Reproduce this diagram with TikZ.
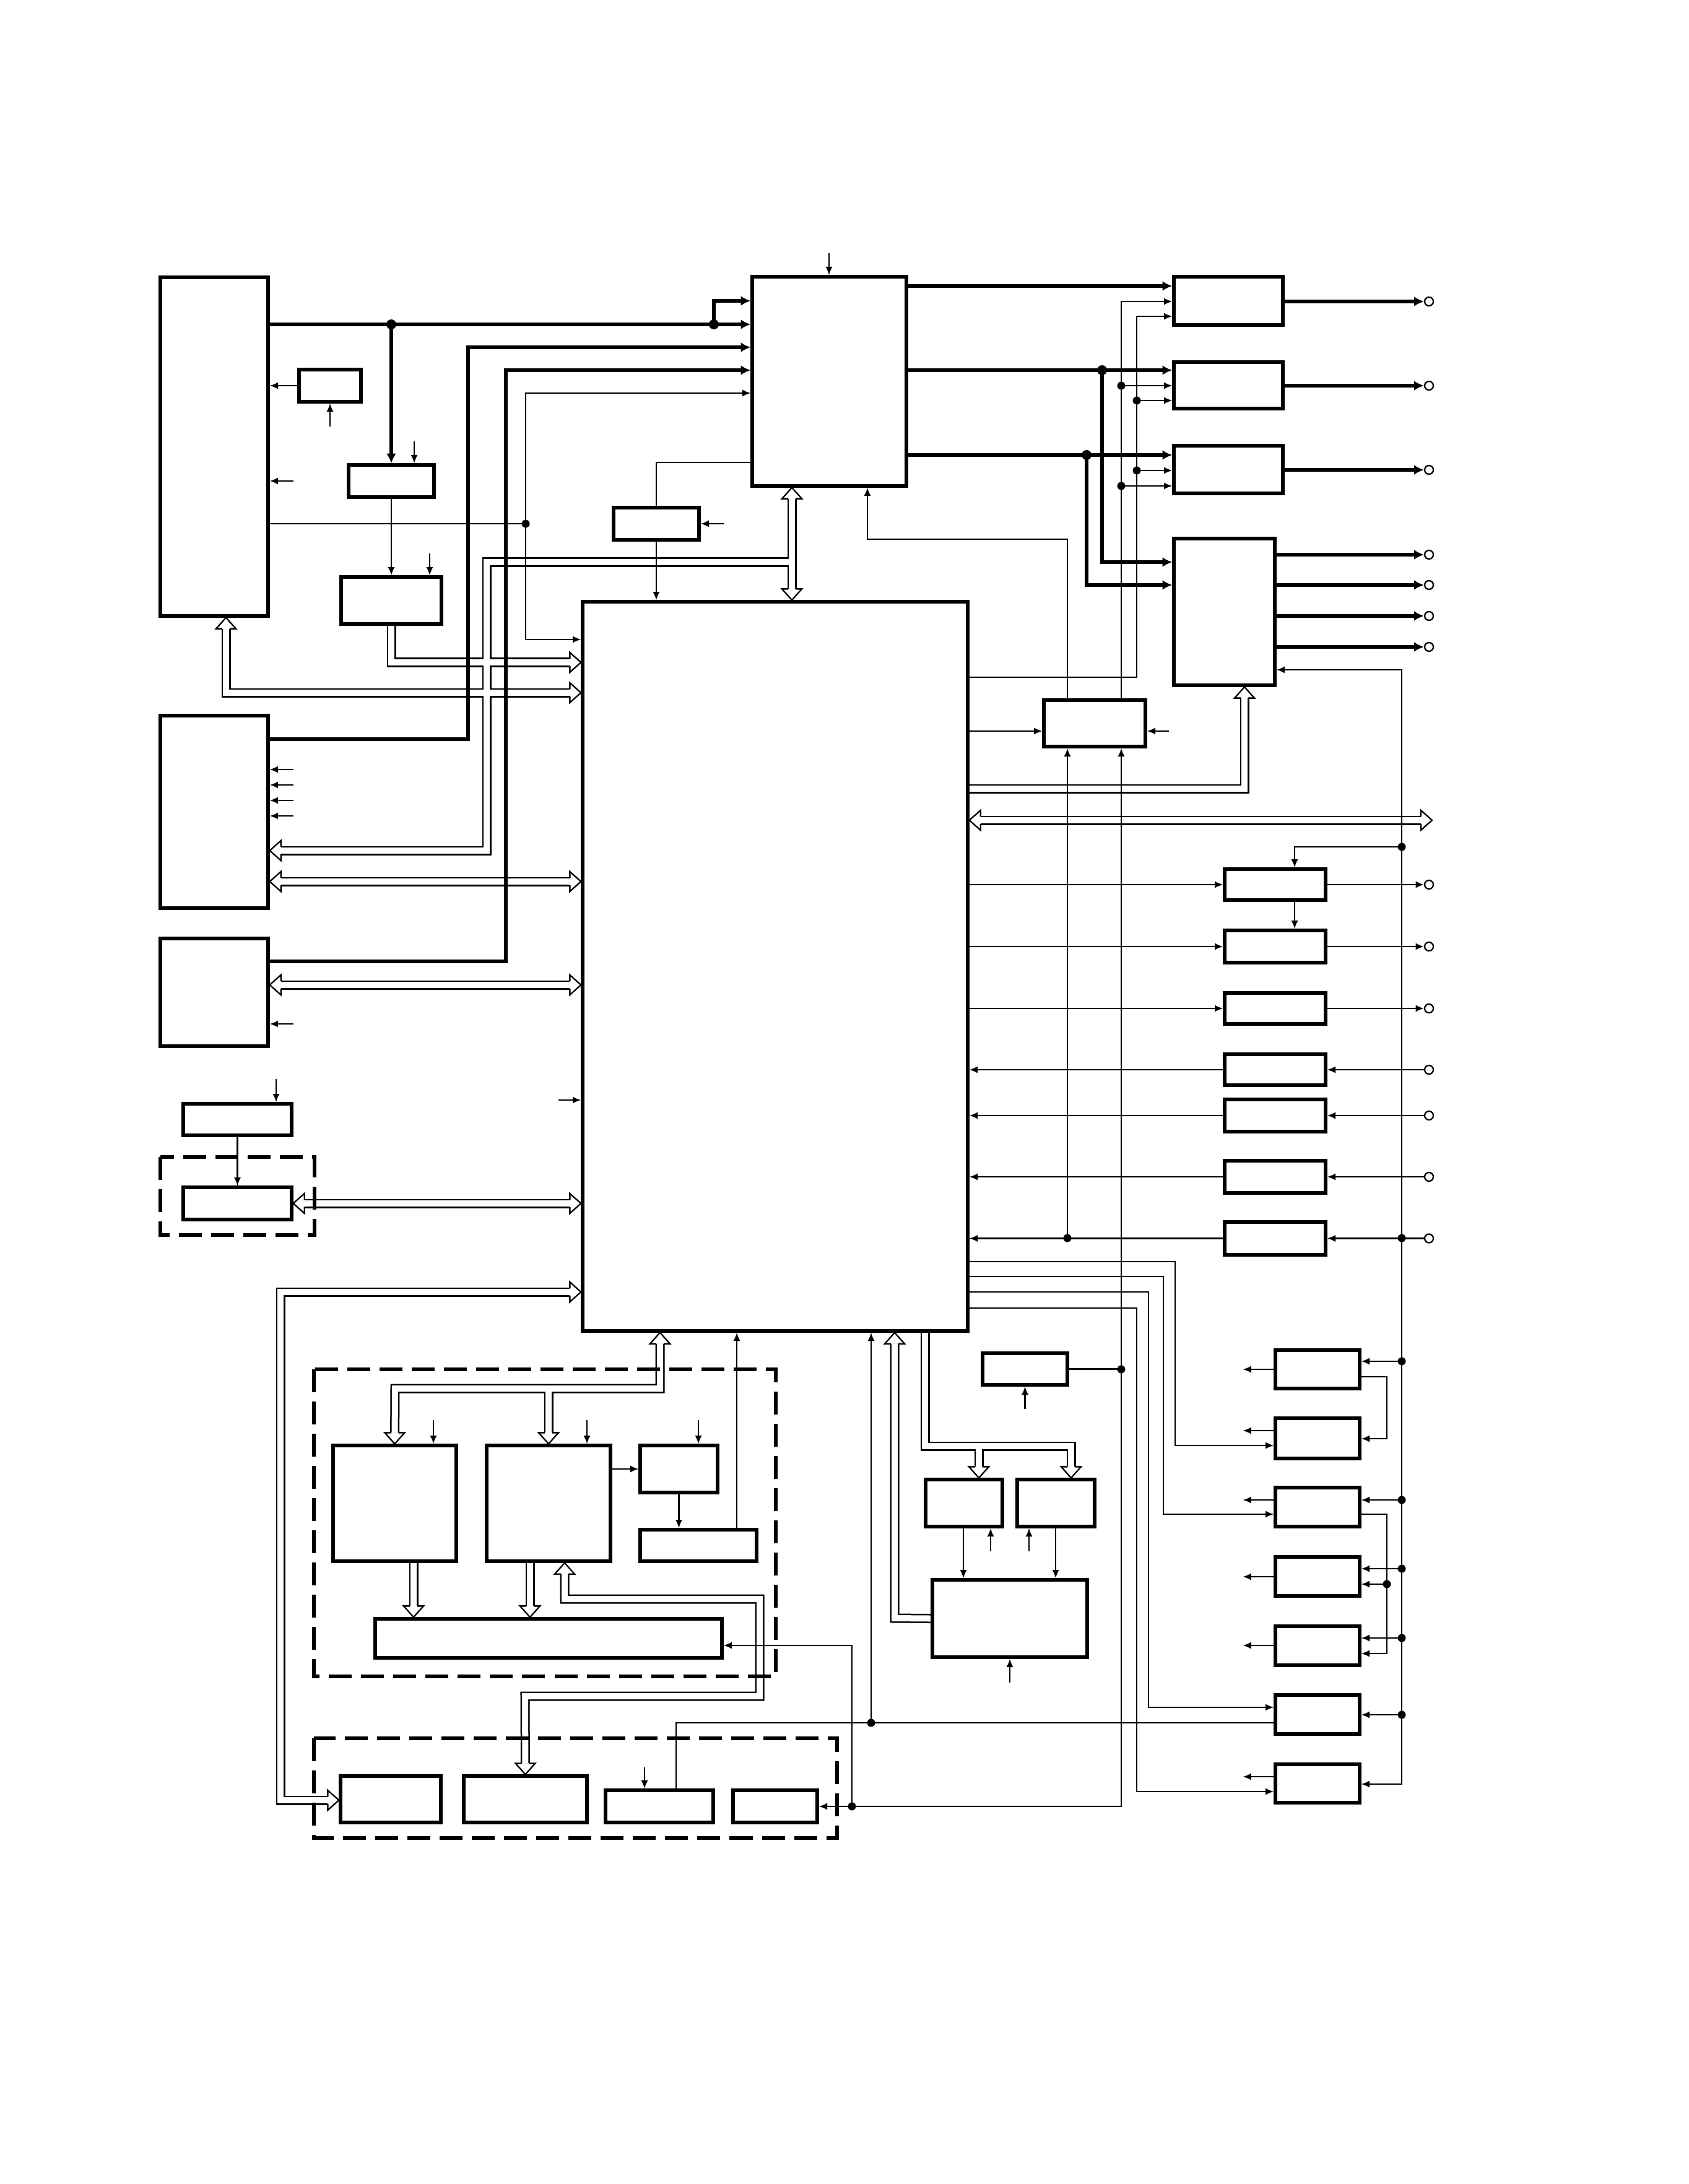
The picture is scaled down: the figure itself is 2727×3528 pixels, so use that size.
\documentclass[tikz,border=0pt]{standalone}
\usepackage{tikz}
\usetikzlibrary{arrows.meta,fit,backgrounds}

\tikzset{
  box/.style={draw, line width=1.5pt, inner sep=0pt},
  wire/.style={line width=0.65pt},
  heavy/.style={line width=1.9pt},
  heavyto/.style={heavy, -{Latex[length=4.5pt,width=4.5pt]}},
  term/.style={circle, draw, fill=white, line width=0.65pt, inner sep=0pt, minimum size=0.14cm},
  frame/.style={line width=1.5pt, dash pattern=on 0.37cm off 0.15cm},
  busk/.style={draw=black, line width=1.5mm},
  busw/.style={draw=white, line width=1mm},
  hhead/.style={fill=white, draw=black, line width=0.65pt},
  >={Latex[length=3.8pt,width=3.2pt]}
}

% hollow bus heads, tip at #1
\newcommand{\hR}[1]{\filldraw[hhead] (#1) ++(-18,-6) -- ++(0,-10) -- ++(18,16) -- ++(-18,16) -- ++(0,-10);}
\newcommand{\hL}[1]{\filldraw[hhead] (#1) ++(18,-6) -- ++(0,-10) -- ++(-18,16) -- ++(18,16) -- ++(0,-10);}
\newcommand{\hU}[1]{\filldraw[hhead] (#1) ++(-6,18) -- ++(-10,0) -- ++(16,-18) -- ++(16,18) -- ++(-10,0);}
\newcommand{\hD}[1]{\filldraw[hhead] (#1) ++(-6,-18) -- ++(-10,0) -- ++(16,18) -- ++(16,-18) -- ++(-10,0);}

% hollow bus shafts
\newcommand{\buslines}[1]{%
  \draw[#1,shorten <=1.8mm,shorten >=1.8mm] (A.south -| 365,0) -- (365,1119) -- (MCU.west |- 0,1119);
  \draw[#1,shorten >=1.8mm] (a3.south) -- (632,1070) -- (MCU.west |- 0,1070);
  \draw[#1,shorten <=1.8mm,shorten >=1.8mm] (B.south -| 1279,0) -- (MCU.north -| 1279,0);
  \draw[#1,shorten >=1.8mm] (1279,908) -- (786,908) -- (786,1374) -- (C2.east |- 0,1374);
  \draw[#1,shorten <=1.8mm,shorten >=1.8mm] (C2.east |- 0,1424) -- (MCU.west |- 0,1424);
  \draw[#1,shorten <=1.8mm,shorten >=1.8mm] (C3.east |- 0,1591) -- (MCU.west |- 0,1591);
  \draw[#1,shorten <=1.8mm,shorten >=1.8mm] (c5.east) -- (MCU.west |- c5.east);
  \draw[#1,shorten >=1.8mm] (MCU.east |- 0,1274) -- (2010,1274) -- (D.south -| 2010,0);
  \draw[#1,shorten <=1.8mm,shorten >=1.8mm] (MCU.east |- 0,1325) -- (busend);
  \draw[#1,shorten <=1.8mm,shorten >=1.8mm] (MCU.west |- 0,2087) -- (453,2087) -- (453,2908) -- (g1.west |- 0,2908);
  \draw[#1,shorten <=1.8mm,shorten >=1.8mm] (MCU.south -| 1066,0) -- (1066,2243) -- (638,2243) -- (f1.north);
  \draw[#1,shorten >=1.8mm] (886,2243) -- (f2.north);
  \draw[#1,shorten >=1.8mm] (f1.south -| 668,0) -- (f5.north -| 668,0);
  \draw[#1,shorten >=1.8mm] (f2.south -| 856,0) -- (f5.north -| 856,0);
  \draw[#1,shorten <=1.8mm,shorten >=1.8mm] (f2.south -| 912,0) -- (912,2583) -- (1227,2583) -- (1227,2740) -- (848,2740) -- (g2.north);
  \draw[#1,shorten <=1.8mm] (MCU.south -| 1445,0) -- (1445,2614) -- (E2.west);
  \draw[#1,shorten >=1.8mm] (MCU.south -| 1494,0) -- (1494,2336) -- (1730,2336) -- (E4.north -| 1730,0);
  \draw[#1,shorten >=1.8mm] (1581,2336) -- (E3.north -| 1581,0);
}

\begin{document}
\begin{tikzpicture}[x=0.01cm, y=-0.01cm]
  \useasboundingbox (0,0) rectangle (2727,3528);

  % blocks, upper left
  \node[box, fit={(259,448) (433,995)}] (A) {};
  \node[box, fit={(483,597) (583,649)}] (a1) {};
  \node[box, fit={(563,751) (701,803)}] (a2) {};
  \node[box, fit={(551,932) (713,1008)}] (a3) {};
  \node[box, fit={(991,820) (1129,872)}] (a4) {};
  \node[box, fit={(1215,447) (1464,785)}] (B) {};
  \node[box, fit={(941,972) (1563,2150)}] (MCU) {};
  \node[box, fit={(259,1156) (433,1467)}] (C2) {};
  \node[box, fit={(259,1516) (433,1690)}] (C3) {};
  \node[box, fit={(296,1783) (471,1834)}] (c4) {};
  \node[box, fit={(296,1918) (471,1970)}] (c5) {};

  % blocks, upper right
  \node[box, fit={(1896,447) (2072,525)}] (R1) {};
  \node[box, fit={(1896,585) (2072,660)}] (R2) {};
  \node[box, fit={(1896,720) (2072,797)}] (R3) {};
  \node[box, fit={(1896,870) (2059,1107)}] (D) {};
  \node[box, fit={(1686,1131) (1850,1206)}] (C) {};
  \node[box, fit={(1978,1404) (2141,1454)}] (k1) {};
  \node[box, fit={(1978,1503) (2141,1555)}] (k2) {};
  \node[box, fit={(1978,1604) (2141,1654)}] (k3) {};
  \node[box, fit={(1978,1703) (2141,1753)}] (k4) {};
  \node[box, fit={(1978,1776) (2141,1828)}] (k5) {};
  \node[box, fit={(1978,1875) (2141,1927)}] (k6) {};
  \node[box, fit={(1978,1974) (2141,2027)}] (k7) {};

  % blocks, lower part
  \node[box, fit={(538,2335) (737,2522)}] (f1) {};
  \node[box, fit={(786,2335) (986,2522)}] (f2) {};
  \node[box, fit={(1034,2335) (1159,2411)}] (f3) {};
  \node[box, fit={(1034,2471) (1222,2522)}] (f4) {};
  \node[box, fit={(606,2615) (1166,2678)}] (f5) {};
  \node[box, fit={(550,2869) (712,2944)}] (g1) {};
  \node[box, fit={(749,2869) (948,2944)}] (g2) {};
  \node[box, fit={(978,2892) (1152,2944)}] (g3) {};
  \node[box, fit={(1184,2892) (1320,2944)}] (g4) {};
  \node[box, fit={(1587,2186) (1724,2237)}] (E1) {};
  \node[box, fit={(1506,2552) (1756,2677)}] (E2) {};
  \node[box, fit={(1495,2390) (1619,2466)}] (E3) {};
  \node[box, fit={(1643,2390) (1768,2466)}] (E4) {};
  \node[box, fit={(2060,2181) (2196,2243)}] (h1) {};
  \node[box, fit={(2060,2291) (2196,2356)}] (h2) {};
  \node[box, fit={(2060,2403) (2196,2466)}] (h3) {};
  \node[box, fit={(2060,2515) (2196,2578)}] (h4) {};
  \node[box, fit={(2060,2627) (2196,2690)}] (h5) {};
  \node[box, fit={(2060,2738) (2196,2801)}] (h6) {};
  \node[box, fit={(2060,2850) (2196,2912)}] (h7) {};

  % dashed groups
  \draw[frame] (259,1869) rectangle (508,1995);
  \draw[frame] (507,2212) rectangle (1253,2708);
  \draw[frame] (507,2808) rectangle (1352,2969);

  % terminals
  \foreach \n/\y in {t1/487,t2/623,t3/759,t4/896,t5/945,t6/995,t7/1045}
    \node[term] (\n) at (2308,\y) {};
  \foreach \k in {k1,k2,k3,k4,k5,k6,k7}
    \node[term] (t\k) at (\k.east -| 2308,0) {};
  \coordinate (busend) at (2313,1325);

  % hollow buses
  \begin{pgfonlayer}{background}
    \fill[white] (0,0) rectangle (2727,3528);
    \buslines{busk}
    \buslines{busw}
    \hU{A.south -| 365,0} \hR{MCU.west |- 0,1119}
    \hR{MCU.west |- 0,1070}
    \hU{B.south -| 1279,0} \hD{MCU.north -| 1279,0}
    \hL{C2.east |- 0,1374}
    \hL{C2.east |- 0,1424} \hR{MCU.west |- 0,1424}
    \hL{C3.east |- 0,1591} \hR{MCU.west |- 0,1591}
    \hL{c5.east} \hR{MCU.west |- c5.east}
    \hU{D.south -| 2010,0}
    \hL{MCU.east |- 0,1325} \hR{busend}
    \hR{MCU.west |- 0,2087} \hR{g1.west |- 0,2908}
    \hU{MCU.south -| 1066,0} \hD{f1.north} \hD{f2.north}
    \hD{f5.north -| 668,0} \hD{f5.north -| 856,0}
    \hU{f2.south -| 912,0} \hD{g2.north}
    \hU{MCU.south -| 1445,0}
    \hD{E3.north -| 1581,0} \hD{E4.north -| 1730,0}
  \end{pgfonlayer}

  % heavy lines
  \draw[heavyto] (A.east |- 0,524) -- (B.west |- 0,524);
  \draw[heavyto] (1153,524) -- (1153,486) -- (B.west |- 0,486);
  \draw[heavyto] (632,524) -- (a2.north);
  \draw[heavyto] (C2.east |- 0,1194) -- (756,1194) -- (756,561) -- (B.west |- 0,561);
  \draw[heavyto] (C3.east |- 0,1553) -- (817,1553) -- (817,598) -- (B.west |- 0,598);
  \draw[heavyto] (B.east |- 0,462) -- (R1.west |- 0,462);
  \draw[heavyto] (B.east |- 0,598) -- (R2.west |- 0,598);
  \draw[heavyto] (B.east |- 0,735) -- (R3.west |- 0,735);
  \draw[heavyto] (1780,598) -- (1780,908) -- (D.west |- 0,908);
  \draw[heavyto] (1755,735) -- (1755,945) -- (D.west |- 0,945);
  \draw[heavyto] (R1.east |- t1) -- (t1);
  \draw[heavyto] (R2.east |- t2) -- (t2);
  \draw[heavyto] (R3.east |- t3) -- (t3);
  \foreach \n in {t4,t5,t6,t7}
    \draw[heavyto] (D.east |- \n) -- (\n);

  % signal lines, left
  \draw[wire,->] (a1.west) -- (A.east |- a1.west);
  \draw[wire,<-] (a1.south) -- ++(0,37);
  \draw[wire,<-] (A.east |- 0,777) -- ++(38,0);
  \draw[wire,<-] (a2.north -| 669,0) -- ++(0,-35);
  \draw[wire,->] (a2.south) -- (a3.north);
  \draw[wire,<-] (a3.north -| 694,0) -- ++(0,-35);
  \draw[wire] (A.east |- 0,846) -- (849,846);
  \draw[wire,<->] (B.west |- 0,635) -- (849,635) -- (849,1033) -- (MCU.west |- 0,1033);
  \draw[wire,<-] (B.north -| 1339,0) -- ++(0,-35);
  \draw[wire,<-] (a4.east) -- ++(37,0);
  \draw[wire] (a4.north) -- (1060,747) -- (B.west |- 0,747);
  \draw[wire,->] (a4.south) -- (a4.south |- MCU.north);
  \foreach \y in {1243,1268,1293,1318}
    \draw[wire,<-] (C2.east |- 0,\y) -- ++(38,0);
  \draw[wire,<-] (C3.east |- 0,1654) -- ++(38,0);
  \draw[wire,<-] (MCU.west |- 0,1777) -- ++(-36,0);
  \draw[wire,<-] (c4.north -| 446,0) -- ++(0,-37);
  \draw[wire,->] (c4.south) -- (c5.north);

  % signal lines, right
  \draw[wire,->] (C.north -| 1811,0) -- (1811,487) -- (R1.west |- 0,487);
  \draw[wire,->] (1811,623) -- (R2.west |- 0,623);
  \draw[wire,->] (1811,785) -- (R3.west |- 0,785);
  \draw[wire,->] (MCU.east |- 0,1094) -- (1836,1094) -- (1836,511) -- (R1.west |- 0,511);
  \draw[wire,->] (1836,647) -- (R2.west |- 0,647);
  \draw[wire,->] (1836,760) -- (R3.west |- 0,760);
  \draw[wire,->] (C.north -| 1724,0) -- (1724,871) -- (1401,871) -- (B.south -| 1401,0);
  \draw[wire,->] (MCU.east |- 0,1181) -- (C.west |- 0,1181);
  \draw[wire,<-] (C.east |- 0,1181) -- ++(35,0);
  \draw[wire,<->] (D.east |- 0,1082) -- (2264,1082) -- (2264,2882) -- (h7.east |- 0,2882);
  \draw[wire,->] (2264,1368) -- (2091,1368) -- (k1.north -| 2091,0);
  \draw[wire,->] (k1.south -| 2091,0) -- (k2.north -| 2091,0);
  \foreach \k in {k1,k2,k3} {
    \draw[wire,->] (MCU.east |- \k.west) -- (\k.west);
    \draw[wire,->] (\k.east) -- (t\k);
  }
  \foreach \k in {k4,k5,k6,k7} {
    \draw[wire,->] (t\k) -- (\k.east);
    \draw[wire,->] (\k.west) -- (MCU.east |- \k.west);
  }
  \draw[wire,->] (1724,2000) -- (C.south -| 1724,0);
  \draw[wire,->] (1376,2918) -- (1811,2918) -- (C.south -| 1811,0);
  \draw[wire] (E1.east) -- (E1.east -| 1811,0);
  \draw[wire,<-] (E1.south) -- ++(0,36);

  % signal lines, lower right
  \draw[wire,->] (MCU.east |- 0,2038) -- (1898,2038) -- (1898,2335) -- (h2.west |- 0,2335);
  \draw[wire,->] (MCU.east |- 0,2062) -- (1879,2062) -- (1879,2446) -- (h3.west |- 0,2446);
  \draw[wire,->] (MCU.east |- 0,2087) -- (1855,2087) -- (1855,2758) -- (h6.west |- 0,2758);
  \draw[wire,->] (MCU.east |- 0,2113) -- (1836,2113) -- (1836,2894) -- (h7.west |- 0,2894);
  \foreach \h/\y in {h1/2212,h2/2311,h3/2423,h4/2547,h5/2658,h7/2870}
    \draw[wire,->] (\h.west |- 0,\y) -- ++(-50,0);
  \foreach \h/\y in {h1/2199,h3/2423,h4/2534,h5/2646,h6/2770}
    \draw[wire,->] (2264,\y) -- (\h.east |- 0,\y);
  \draw[wire,->] (h1.east |- 0,2224) -- (2240,2224) -- (2240,2324) -- (h2.east |- 0,2324);
  \draw[wire,->] (h3.east |- 0,2446) -- (2240,2446) -- (2240,2671) -- (h5.east |- 0,2671);
  \draw[wire,->] (2240,2559) -- (h4.east |- 0,2559);
  \draw[wire] (h6.west |- 0,2783) -- (1092,2783) -- (g3.north -| 1092,0);
  \draw[wire,->] (1407,2783) -- (MCU.south -| 1407,0);
  \draw[wire,->] (1376,2918) -- (g4.east);
  \draw[wire,->] (1376,2918) -- (1376,2658) -- (f5.east |- 0,2658);
  \draw[wire,<-] (g3.north -| 1041,0) -- ++(0,-34);

  % signal lines, lower middle
  \draw[wire,->] (E3.south -| 1556,0) -- (E2.north -| 1556,0);
  \draw[wire,->] (E4.south -| 1705,0) -- (E2.north -| 1705,0);
  \draw[wire,<-] (E3.south -| 1600,0) -- ++(0,37);
  \draw[wire,<-] (E4.south -| 1662,0) -- ++(0,37);
  \draw[wire,<-] (E2.south) -- ++(0,38);
  \draw[wire,<-] (f1.north -| 700,0) -- ++(0,-38);
  \draw[wire,<-] (f2.north -| 948,0) -- ++(0,-38);
  \draw[wire,<-] (f3.north -| 1128,0) -- ++(0,-38);
  \draw[wire,->] (f2.east |- f3.west) -- (f3.west);
  \draw[wire,->] (f3.south) -- (f3.south |- f4.north);
  \draw[wire,->] (f4.north -| 1190,0) -- (MCU.south -| 1190,0);

  % junction dots
  \foreach \p in {(632,524),(1153,524),(1780,598),(1755,735)}
    \fill \p circle (0.08cm);
  \foreach \p in {(849,846),(1811,623),(1836,647),(1836,760),(1811,785),(2264,1368),
                  (1724,2000),(2264,2000),(1811,2212),(1407,2783),(1376,2918),
                  (2264,2199),(2264,2423),(2264,2534),(2264,2646),(2264,2770),(2240,2559)}
    \fill \p circle (0.065cm);
\end{tikzpicture}
\end{document}
